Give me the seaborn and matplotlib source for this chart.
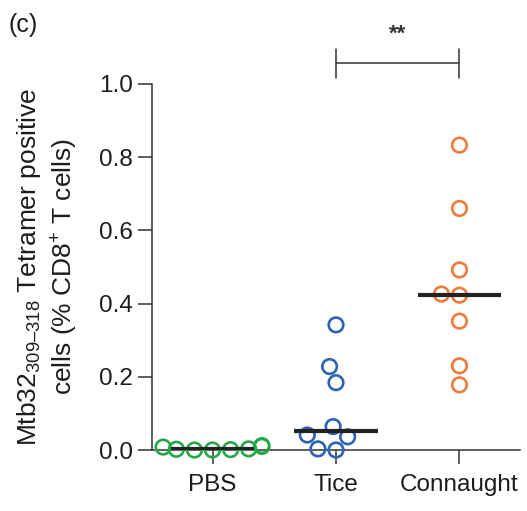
import matplotlib
matplotlib.use("Agg")
import matplotlib.pyplot as plt
import seaborn as sns
import pandas as pd
import numpy as np

groups = ["PBS", "Tice", "Connaught"]
pbs = [0.010, 0.003, 0.012, 0.001, 0.008, 0.000, 0.002, 0.000]
tice = [0.342, 0.228, 0.184, 0.064, 0.041, 0.036, 0.000, 0.003]
connaught = [0.833, 0.660, 0.492, 0.423, 0.426, 0.352, 0.230, 0.178]
colors = ["#23a847", "#2c63b3", "#ee7b3b"]
yticks = [0.0, 0.2, 0.4, 0.6, 0.8, 1.0]

sns.set_theme(style="ticks")
plt.rcParams["font.family"] = ["Liberation Sans", "DejaVu Sans"]
plt.rcParams["mathtext.fontset"] = "custom"
plt.rcParams["mathtext.rm"] = "Liberation Sans"
plt.rcParams["mathtext.it"] = "Liberation Sans"

df = pd.DataFrame({
    "group": ["PBS"] * len(pbs) + ["Tice"] * len(tice) + ["Connaught"] * len(connaught),
    "value": pbs + tice + connaught,
})

fig = plt.figure(figsize=(5.27, 5.11), dpi=100)
ax = fig.add_axes([152 / 527, 61 / 511, 368 / 527, 366 / 511])

sns.swarmplot(data=df, x="group", y="value", hue="group", order=groups,
              hue_order=groups, palette=colors, size=10.5, linewidth=0,
              legend=False, ax=ax, clip_on=False, zorder=3)
for coll in ax.collections:
    fc = coll.get_facecolors()
    coll.set_edgecolors(fc)
    coll.set_facecolors("none")
    coll.set_linewidth(1.9)
    coll.set_clip_on(False)

med = df.groupby("group")["value"].median()
for i, g in enumerate(groups):
    ax.hlines(med[g], i - 0.34, i + 0.34, color="#222222", lw=3, zorder=4)

txt = "#1c1c1c"
ax.set_xlim(-0.49, 2.49)
ax.set_ylim(0, 1.0)
ax.set_yticks(yticks)
ax.set_yticklabels([f"{t:.1f}" for t in yticks])
ax.set_xlabel("")
ax.set_ylabel("Mtb32$_{\\mathregular{309–318}}$ Tetramer positive\ncells (% CD8$^{\\mathregular{+}}$ T cells)",
              fontsize=19, color=txt, labelpad=14, linespacing=1.3)
for s in ["top", "right"]:
    ax.spines[s].set_visible(False)
for s in ["left", "bottom"]:
    ax.spines[s].set_linewidth(1.1)
    ax.spines[s].set_color("#333333")
ax.tick_params(axis="y", length=10, width=1.1, color="#333333", labelsize=17.5, pad=3.5, labelcolor=txt)
ax.tick_params(axis="x", length=10, width=1.1, color="#333333", labelsize=17.5, pad=7, labelcolor=txt)

# significance bracket between Tice and Connaught
ax.plot([1, 2], [1.0566, 1.0566], color="#333333", lw=1.1, clip_on=False)
ax.plot([1, 1], [1.096, 1.016], color="#333333", lw=1.1, clip_on=False)
ax.plot([2, 2], [1.096, 1.016], color="#333333", lw=1.1, clip_on=False)
ax.text(1.5, 1.135, "**", ha="center", va="center", fontsize=16, fontweight="bold", color="#333333")

fig.text(8 / 527, 1 - 13 / 511, "(c)", ha="left", va="top", fontsize=18, color=txt)

fig.savefig("out.png", dpi=100)
